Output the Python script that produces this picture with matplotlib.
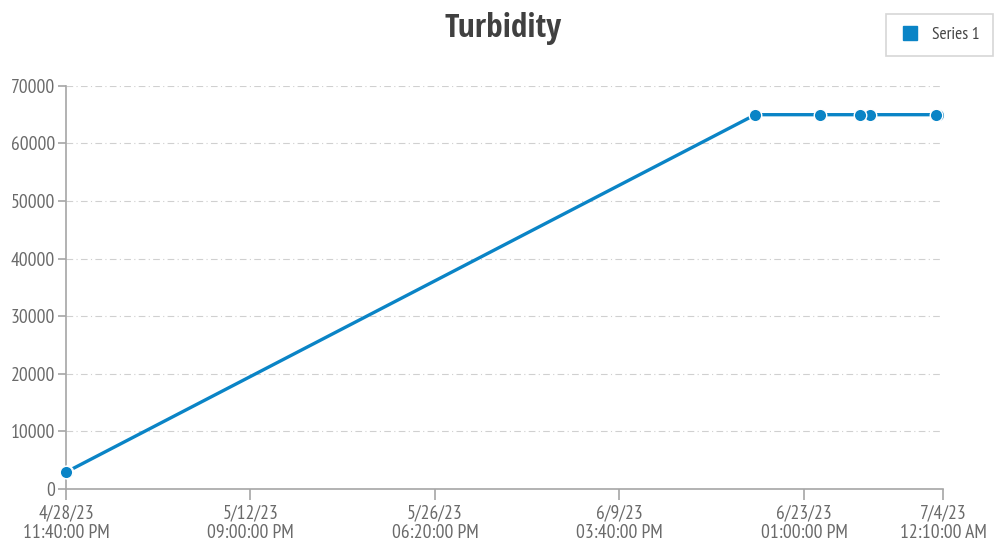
import matplotlib
matplotlib.use("Agg")
import matplotlib.pyplot as plt
import matplotlib.dates as mdates
import pandas as pd
from matplotlib.lines import Line2D

plt.rcParams['font.family'] = ['PT Sans Narrow', 'DejaVu Sans']

times = ["2023-04-28 23:40", "2023-04-29 01:10", "2023-06-19 21:00", "2023-06-24 17:40",
         "2023-06-27 17:50", "2023-06-28 11:40", "2023-07-03 10:40", "2023-07-03 16:00"]
values = [3000, 3000, 65000, 65000, 65000, 65000, 65000, 65000]
tick_times = ["2023-04-28 23:40", "2023-05-12 21:00", "2023-05-26 18:20",
              "2023-06-09 15:40", "2023-06-23 13:00", "2023-07-04 00:10"]
tick_labels = ["4/28/23\n11:40:00 PM", "5/12/23\n09:00:00 PM", "5/26/23\n06:20:00 PM",
               "6/9/23\n03:40:00 PM", "6/23/23\n01:00:00 PM", "7/4/23\n12:10:00 AM"]
y_ticks = [0, 10000, 20000, 30000, 40000, 50000, 60000, 70000]

t = pd.to_datetime(times)
tt = pd.to_datetime(tick_times)

blue = '#0a84c6'
grey = '#a6a6a6'
text_c = '#6a6a6a'

fig = plt.figure(figsize=(9.94, 5.44), dpi=100)
ax = fig.add_axes([0.0664, 0.1011, 0.8823, 0.741])

ax.plot(t, values, color=blue, lw=2.4, zorder=3, clip_on=False)
# markers drawn last-to-first so earlier points sit on top of later ones
ax.plot(t[::-1], values[::-1], linestyle='none', marker='o', markersize=9,
        markerfacecolor=blue, markeredgecolor='white', markeredgewidth=1.0, zorder=4,
        clip_on=False)

ax.set_xlim(mdates.date2num(tt[0]), mdates.date2num(tt[-1]))
ax.set_ylim(0, 70000)
ax.set_xticks(mdates.date2num(tt))
ax.set_xticklabels(tick_labels)
ax.set_yticks(y_ticks)
ax.set_yticklabels([str(v) for v in y_ticks])

ax.grid(axis='y', color='#d0d0d0', linestyle=(0, (6, 3, 1, 3)), linewidth=0.8)
ax.set_axisbelow(True)
for s in ['top', 'right']:
    ax.spines[s].set_visible(False)
for s in ['left', 'bottom']:
    ax.spines[s].set_color(grey)
    ax.spines[s].set_linewidth(1.2)
ax.tick_params(axis='both', colors=grey, labelcolor=text_c, labelsize=14, length=8, width=1.2, pad=3)
ax.tick_params(axis='y', length=6, pad=2)
for lab in ax.get_xticklabels():
    lab.set_linespacing(1.15)

fig.text(0.506, 0.947, "Turbidity", ha='center', va='center', fontsize=24, fontweight='bold',
         color='#404040', family=['Open Sans Condensed', 'DejaVu Sans'])

handle = Line2D([], [], marker='s', color=blue, linestyle='none', markersize=10)
leg = fig.legend([handle], ["Series 1"], loc='upper right', bbox_to_anchor=(0.999, 0.975),
                 frameon=True, fancybox=False, edgecolor='#cccccc', fontsize=12.5,
                 labelcolor='#444444', handletextpad=0.7, borderpad=0.75, handlelength=1.2,
                 borderaxespad=0)
leg.get_frame().set_linewidth(1.2)

fig.savefig("out.png", dpi=100)
